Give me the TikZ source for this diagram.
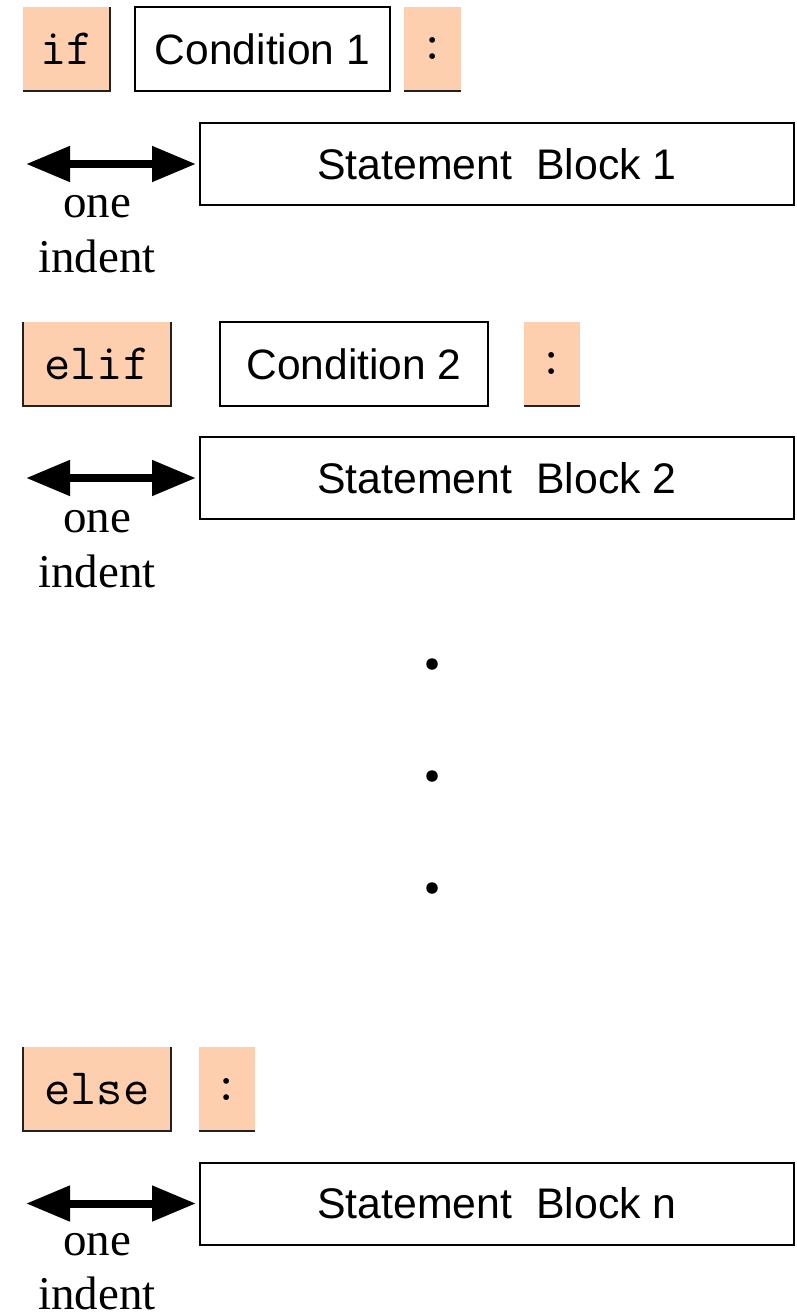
\documentclass[tikz,border=0pt]{standalone}
\usepackage{fontspec}
\setmainfont{Liberation Serif}
\setsansfont{Liberation Sans}
\usetikzlibrary{arrows.meta}
\definecolor{kwfill}{HTML}{FDCFAE}
\definecolor{kwline}{HTML}{222222}

\begin{document}
\begin{tikzpicture}[x=1pt,y=-1pt,
  kw/.style={fill=kwfill, inner sep=0pt, minimum height=84pt,
             font=\fontsize{51}{55}\selectfont\ttfamily},
  cond/.style={draw=black, line width=2pt, inner sep=0pt, minimum height=84pt,
               font=\fontsize{42.5}{50}\selectfont\sffamily},
  block/.style={draw=black, line width=2pt, inner sep=0pt, minimum width=594pt,
                minimum height=82pt, font=\fontsize{42.8}{50}\selectfont\sffamily},
  kwedge/.style={draw=kwline, line width=2pt},
  indentarrow/.style={line width=8pt,
     {Triangle[length=44pt,width=34pt]}-{Triangle[length=44pt,width=34pt]}},
  lbl/.style={font=\fontsize{47}{55}\selectfont\rmfamily, anchor=base, inner sep=0pt},
  dot/.style={circle, fill=black, minimum size=11.5pt, inner sep=0pt}]

\useasboundingbox (0,0) rectangle (796,1315);

% ---- if Condition 1 :
\node[kw, minimum width=87pt] (if) at (66.5,49) {if};
\node[cond, minimum width=255pt] (c1) at (262.5,49) {Condition 1};
\node[kw, minimum width=57pt] (col1) at (432.5,49) {:};
\draw[kwedge] (if.north east) -- (if.south east) -- (if.south west);
\draw[kwedge] (col1.south west) -- (col1.south east);

% ---- statement block 1
\node[block] (sb1) at (497,164) {Statement\ \ Block 1};
\coordinate (t1) at (26,164);
\draw[indentarrow] (t1) -- ([xshift=-3pt]sb1.west);
\node[lbl] (one1) at (97,217) {one};
\node[lbl] (ind1) at (97,272) {indent};

% ---- elif Condition 2 :
\node[kw, minimum width=148pt] (elif) at (97,364) {elif};
\node[cond, minimum width=268pt] (c2) at (354,364) {Condition 2};
\node[kw, minimum width=56pt] (col2) at (552,364) {:};
\draw[kwedge] (elif.north west) -- (elif.south west) -- (elif.south east) -- (elif.north east);
\draw[kwedge] (col2.south west) -- (col2.south east);

% ---- statement block 2
\node[block] (sb2) at (497,478) {Statement\ \ Block 2};
\coordinate (t2) at (26,478);
\draw[indentarrow] (t2) -- ([xshift=-3pt]sb2.west);
\node[lbl] (one2) at (97,532) {one};
\node[lbl] (ind2) at (97,587) {indent};

% ---- vertical ellipsis
\node[dot] (d1) at (432,664) {};
\node[dot] (d2) at (432,776) {};
\node[dot] (d3) at (432,888) {};

% ---- else :
\node[kw, minimum width=148pt] (else) at (97,1089) {else};
\node[kw, minimum width=56pt] (col3) at (227,1089) {:};
\draw[kwedge] (else.north west) -- (else.south west) -- (else.south east) -- (else.north east);
\draw[kwedge] (col3.south west) -- (col3.south east);

% ---- statement block n
\node[block] (sbn) at (497,1203.5) {Statement\ \ Block n};
\coordinate (tn) at (26,1203.5);
\draw[indentarrow] (tn) -- ([xshift=-3pt]sbn.west);
\node[lbl] (onen) at (97,1255) {one};
\node[lbl] (indn) at (97,1309) {indent};
\end{tikzpicture}
\end{document}
